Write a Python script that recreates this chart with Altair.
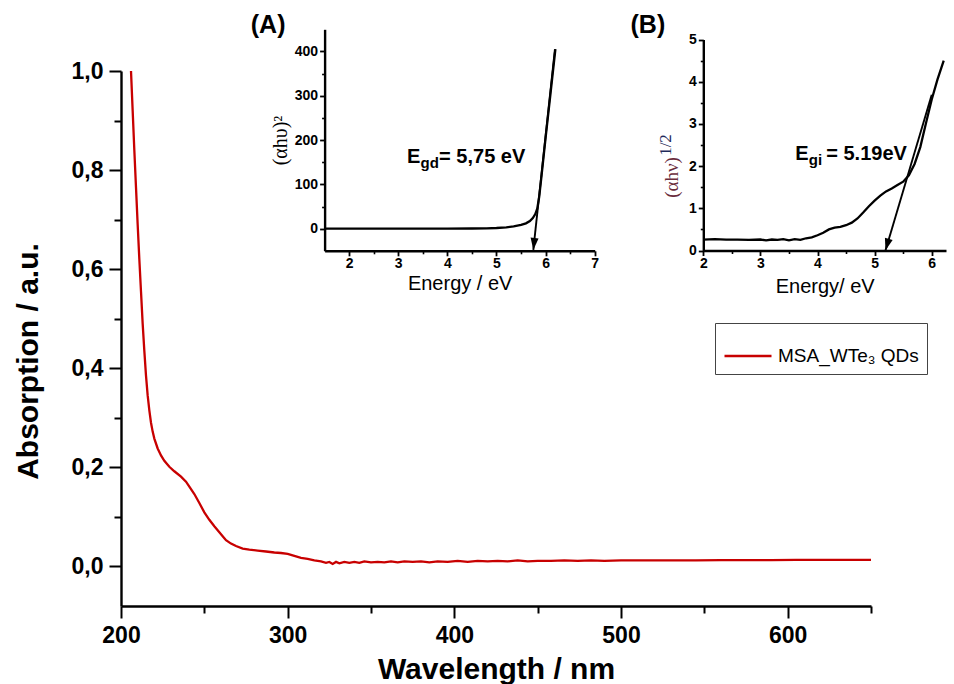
import altair as alt
import pandas as pd

# ---------------- data ----------------
wavelength = [206, 207, 208, 209, 210, 211, 212, 213, 214, 215, 216, 217, 218, 219, 220,
              222, 224, 226, 229, 232, 236, 239, 241, 244, 247, 250, 253, 256, 258, 261,
              263, 266, 269, 273, 277, 282, 287, 292, 296, 300, 304, 308, 312, 316, 320,
              323, 325, 327, 329, 331, 334, 337, 340, 343, 346, 350, 354, 358, 362, 366,
              370, 375, 380, 385, 390, 396, 402, 408, 414, 420, 426, 432, 438, 444, 450,
              458, 466, 474, 482, 490, 500, 515, 530, 545, 560, 575, 590, 605, 620, 635, 650]
absorption = [1.000, 0.920, 0.840, 0.765, 0.690, 0.620, 0.555, 0.490, 0.435, 0.385,
              0.345, 0.315, 0.290, 0.272, 0.258, 0.238, 0.224, 0.213, 0.201, 0.192,
              0.181, 0.171, 0.161, 0.146, 0.128, 0.109, 0.094, 0.081, 0.073, 0.061,
              0.053, 0.046, 0.041, 0.036, 0.034, 0.032, 0.030, 0.028, 0.027, 0.025,
              0.021, 0.017, 0.015, 0.012, 0.010, 0.007, 0.009, 0.005, 0.009, 0.006,
              0.009, 0.007, 0.009, 0.007, 0.010, 0.008, 0.009, 0.008, 0.010, 0.008,
              0.010, 0.009, 0.010, 0.008, 0.010, 0.009, 0.011, 0.009, 0.011, 0.010,
              0.011, 0.010, 0.012, 0.010, 0.011, 0.011, 0.012, 0.011, 0.012, 0.011,
              0.012, 0.012, 0.012, 0.012, 0.0125, 0.0125, 0.0125, 0.013, 0.013, 0.013, 0.013]
series_name = "MSA_WTe\u2083 QDs"

# inset (A): direct gap Tauc plot
energy_a = [1.5, 2.0, 2.5, 3.0, 3.5, 4.0, 4.5, 4.8, 5.0, 5.2, 5.35, 5.5, 5.6, 5.68,
            5.74, 5.79, 5.83, 5.87, 5.92, 6.0, 6.1, 6.2]
tauc_a = [0, 0, 0, 0, 0, 0, 0.3, 0.8, 1.5, 3, 5, 8.5, 12, 17,
          24, 33, 45, 72, 122, 205, 305, 405]
tangent_a_x = [6.19, 5.75]
tangent_a_y = [405, -48]

# inset (B): indirect gap Tauc plot
energy_b = [2.0, 2.2, 2.4, 2.6, 2.8, 3.0, 3.1, 3.2, 3.3, 3.4,
            3.5, 3.6, 3.7, 3.8, 3.9, 4.0, 4.1, 4.2, 4.3, 4.4,
            4.5, 4.6, 4.7, 4.8, 4.9, 5.0, 5.1, 5.2, 5.3, 5.4,
            5.5, 5.6, 5.7, 5.8, 5.9, 6.0, 6.1, 6.21]
tauc_b = [0.26, 0.27, 0.26, 0.26, 0.25, 0.26, 0.24, 0.26, 0.25, 0.27,
          0.24, 0.27, 0.25, 0.29, 0.31, 0.36, 0.42, 0.50, 0.54, 0.56,
          0.60, 0.66, 0.76, 0.90, 1.05, 1.18, 1.30, 1.40, 1.47, 1.55,
          1.63, 1.78, 2.05, 2.45, 3.02, 3.58, 4.05, 4.50]
tangent_b_x = [6.0, 5.19]
tangent_b_y = [3.69, 0.0]

# annotation anchors (in each inset's data units)
label_a_pos = {"x": [0.35], "y": [441.0], "t": ["(A)"]}
egd_pos = {"x": [3.18], "y": [147.5], "e": ["E"], "sub": ["gd"], "rest": ["= 5,75 eV"]}
label_b_pos = {"x": [1.03], "y": [5.15], "t": ["(B)"]}
egi_pos = {"x": [3.61], "y": [2.14], "e": ["E"], "sub": ["gi"], "rest": ["= 5.19eV"]}
half_pos = {"x": [1.43], "y": [2.5], "t": ["1/2"]}

# ---------------- layout ----------------
W, H = 750, 535
PAD = {"left": 121, "top": 71, "right": 954 - 121 - W, "bottom": 684 - 71 - H}
RED = "#c80000"
SANS = "Liberation Sans"
SERIF = "Liberation Serif"

# ---------------- main spectrum ----------------
main_df = pd.DataFrame({"wl": wavelength, "ab": absorption, "series": series_name})
x_main = alt.Scale(domain=[200, 650], nice=False, zero=False)
y_main = alt.Scale(domain=[-0.08, 1.0], nice=False, zero=False)

main_line = alt.Chart(main_df).mark_line(strokeWidth=2.3).encode(
    x=alt.X("wl:Q", scale=x_main, axis=alt.Axis(
        orient="bottom", values=[200, 300, 400, 500, 600], tickSize=12, tickWidth=2,
        domainWidth=2.4, labelFontSize=23, labelFontWeight="bold", labelPadding=6,
        labelFlush=False, labelOverlap=False,
        title="Wavelength / nm", titleFontSize=30, titleFontWeight="bold",
        titleBaseline="alphabetic", titleY=72)),
    y=alt.Y("ab:Q", scale=y_main, axis=alt.Axis(
        orient="left", values=[0, 0.2, 0.4, 0.6, 0.8, 1.0], tickSize=12, tickWidth=2,
        domainWidth=2.4, labelFontSize=23, labelFontWeight="bold", labelPadding=6,
        labelFlush=False, labelOverlap=False,
        labelExpr="replace(format(datum.value, '.1f'), '.', ',')",
        title="Absorption / a.u.", titleFontSize=30, titleFontWeight="bold",
        titleBaseline="alphabetic", titleAngle=270, titleAlign="center",
        titleX=-84, titleY=290)),
    color=alt.Color("series:N", scale=alt.Scale(domain=[series_name], range=[RED]),
                    legend=alt.Legend(
                        orient="none", legendX=594, legendY=252, title=None,
                        symbolType="stroke", symbolSize=2209, symbolStrokeWidth=2.5,
                        labelFontSize=19, labelFont=SANS, labelOffset=5, labelColor="black",
                        padding=8, strokeColor="#444", fillColor="white", cornerRadius=0)),
)
main_minor = alt.Chart(main_df).mark_line(opacity=0).encode(
    x=alt.X("wl:Q", scale=x_main, axis=alt.Axis(
        orient="bottom", values=[250, 350, 450, 550, 650], tickSize=7, tickWidth=2,
        labels=False, domain=False, title=None)),
    y=alt.Y("ab:Q", scale=y_main, axis=alt.Axis(
        orient="left", values=[0.1, 0.3, 0.5, 0.7, 0.9], tickSize=7, tickWidth=2,
        labels=False, domain=False, title=None)),
)
main = alt.layer(main_line, main_minor).resolve_axis(x="independent", y="independent")

# ---------------- inset A ----------------
xa = alt.Scale(domain=[1.5, 7], range=[203.6, 473.7], nice=False, zero=False)
ya = alt.Scale(domain=[-50, 450], range=[179.8, -41.7], nice=False, zero=False)
a_df = pd.DataFrame({"e": energy_a, "v": tauc_a})
a_tan = pd.DataFrame({"e": tangent_a_x, "v": tangent_a_y})

lineA = alt.Chart(a_df).mark_line(color="black", strokeWidth=2.3).encode(
    x=alt.X("e:Q", scale=xa, axis=alt.Axis(
        orient="bottom", offset=179.8 - H, values=[2, 3, 4, 5, 6, 7], tickSize=5,
        tickWidth=1.8, domainWidth=2.4, labelFontSize=14, labelFontWeight="bold",
        labelPadding=1, labelFlush=False, labelOverlap=False,
        title="Energy / eV", titleFontSize=20, titleFontWeight="normal",
        titleBaseline="alphabetic", titleY=39)),
    y=alt.Y("v:Q", scale=ya, axis=alt.Axis(
        orient="left", offset=-203.6, values=[0, 100, 200, 300, 400], tickSize=5,
        tickWidth=1.8, domainWidth=2.4, labelFontSize=14, labelFontWeight="bold",
        labelPadding=2, labelFlush=False, labelOverlap=False,
        title="(\u03b1h\u03c5)\u00b2", titleFont=SERIF, titleFontSize=20,
        titleFontWeight="normal", titleBaseline="alphabetic", titleAngle=270,
        titleAlign="center", titleX=-38, titleY=69)),
)
tanA = alt.Chart(a_tan).mark_line(color="black", strokeWidth=1.9).encode(
    x=alt.X("e:Q", scale=xa, axis=alt.Axis(
        orient="bottom", offset=179.8 - H, values=[2.5, 3.5, 4.5, 5.5, 6.5], tickSize=3,
        tickWidth=1.6, labels=False, domain=False, title=None)),
    y=alt.Y("v:Q", scale=ya, axis=alt.Axis(
        orient="left", offset=-203.6, values=[50, 150, 250, 350], tickSize=3,
        tickWidth=1.6, labels=False, domain=False, title=None)),
)
headA = alt.Chart(a_tan.tail(1)).mark_point(
    shape="M -1 -3 L 1 -3 L 0 0 Z", filled=True, color="black", size=64, opacity=1, angle=6
).encode(x=alt.X("e:Q", scale=xa, axis=None), y=alt.Y("v:Q", scale=ya, axis=None))

labA_df = pd.DataFrame(label_a_pos)
labA = alt.Chart(labA_df).mark_text(fontSize=25, fontWeight="bold", font=SANS,
                                    align="center", baseline="alphabetic", color="black").encode(
    x=alt.X("x:Q", scale=xa, axis=None), y=alt.Y("y:Q", scale=ya, axis=None), text="t:N")
egd_df = pd.DataFrame(egd_pos)
egdE = alt.Chart(egd_df).mark_text(fontSize=20, fontWeight="bold", font=SANS,
                                   align="left", baseline="alphabetic", color="black").encode(
    x=alt.X("x:Q", scale=xa, axis=None), y=alt.Y("y:Q", scale=ya, axis=None), text="e:N")
egdS = alt.Chart(egd_df).mark_text(fontSize=15, fontWeight="bold", font=SANS, dx=13.5, dy=5,
                                   align="left", baseline="alphabetic", color="black").encode(
    x=alt.X("x:Q", scale=xa, axis=None), y=alt.Y("y:Q", scale=ya, axis=None), text="sub:N")
egdR = alt.Chart(egd_df).mark_text(fontSize=20, fontWeight="bold", font=SANS, dx=32,
                                   align="left", baseline="alphabetic", color="black").encode(
    x=alt.X("x:Q", scale=xa, axis=None), y=alt.Y("y:Q", scale=ya, axis=None), text="rest:N")

insetA = alt.layer(lineA, tanA, headA, labA, egdE, egdS, egdR).resolve_axis(
    x="independent", y="independent")

# ---------------- inset B ----------------
xb = alt.Scale(domain=[2, 6.25], range=[582.3, 825.0], nice=False, zero=False)
yb = alt.Scale(domain=[0, 5], range=[179.5, -31.5], nice=False, zero=False)
b_df = pd.DataFrame({"e": energy_b, "v": tauc_b})
b_tan = pd.DataFrame({"e": tangent_b_x, "v": tangent_b_y})

lineB = alt.Chart(b_df).mark_line(color="black", strokeWidth=2.3).encode(
    x=alt.X("e:Q", scale=xb, axis=alt.Axis(
        orient="bottom", offset=179.5 - H, values=[2, 3, 4, 5, 6], tickSize=5,
        tickWidth=1.8, domainWidth=2.4, labelFontSize=14, labelFontWeight="bold",
        labelPadding=1, labelFlush=False, labelOverlap=False,
        title="Energy/ eV", titleFontSize=20, titleFontWeight="normal",
        titleBaseline="alphabetic", titleY=42)),
    y=alt.Y("v:Q", scale=yb, axis=alt.Axis(
        orient="left", offset=-582.3, values=[0, 1, 2, 3, 4, 5], tickSize=5,
        tickWidth=1.8, domainWidth=2.4, labelFontSize=14, labelFontWeight="bold",
        labelPadding=2, labelFlush=False, labelOverlap=False,
        title="(\u03b1h\u03bd)", titleFont=SERIF, titleFontSize=19, titleColor="#6a2c3c",
        titleFontWeight="normal", titleBaseline="alphabetic", titleAngle=270,
        titleAlign="center", titleX=-26, titleY=106)),
)
tanB = alt.Chart(b_tan).mark_line(color="black", strokeWidth=1.9).encode(
    x=alt.X("e:Q", scale=xb, axis=alt.Axis(
        orient="bottom", offset=179.5 - H, values=[2.5, 3.5, 4.5, 5.5], tickSize=3,
        tickWidth=1.6, labels=False, domain=False, title=None)),
    y=alt.Y("v:Q", scale=yb, axis=alt.Axis(
        orient="left", offset=-582.3, values=[0.5, 1.5, 2.5, 3.5, 4.5], tickSize=3,
        tickWidth=1.6, labels=False, domain=False, title=None)),
)
headB = alt.Chart(b_tan.tail(1)).mark_point(
    shape="M -1 -3 L 1 -3 L 0 0 Z", filled=True, color="black", size=64, opacity=1, angle=16
).encode(x=alt.X("e:Q", scale=xb, axis=None), y=alt.Y("v:Q", scale=yb, axis=None))

labB_df = pd.DataFrame(label_b_pos)
labB = alt.Chart(labB_df).mark_text(fontSize=25, fontWeight="bold", font=SANS,
                                    align="center", baseline="alphabetic", color="black").encode(
    x=alt.X("x:Q", scale=xb, axis=None), y=alt.Y("y:Q", scale=yb, axis=None), text="t:N")
half_df = pd.DataFrame(half_pos)
halfB = alt.Chart(half_df).mark_text(fontSize=17, font=SERIF, angle=270, color="#1f2a5a",
                                     align="center", baseline="alphabetic").encode(
    x=alt.X("x:Q", scale=xb, axis=None), y=alt.Y("y:Q", scale=yb, axis=None), text="t:N")
egi_df = pd.DataFrame(egi_pos)
egiE = alt.Chart(egi_df).mark_text(fontSize=20, fontWeight="bold", font=SANS,
                                   align="left", baseline="alphabetic", color="black").encode(
    x=alt.X("x:Q", scale=xb, axis=None), y=alt.Y("y:Q", scale=yb, axis=None), text="e:N")
egiS = alt.Chart(egi_df).mark_text(fontSize=15, fontWeight="bold", font=SANS, dx=13.5, dy=5,
                                   align="left", baseline="alphabetic", color="black").encode(
    x=alt.X("x:Q", scale=xb, axis=None), y=alt.Y("y:Q", scale=yb, axis=None), text="sub:N")
egiR = alt.Chart(egi_df).mark_text(fontSize=20, fontWeight="bold", font=SANS, dx=31,
                                   align="left", baseline="alphabetic", color="black").encode(
    x=alt.X("x:Q", scale=xb, axis=None), y=alt.Y("y:Q", scale=yb, axis=None), text="rest:N")

insetB = alt.layer(lineB, tanB, headB, labB, halfB, egiE, egiS, egiR).resolve_axis(
    x="independent", y="independent")

# ---------------- compose ----------------
chart = alt.layer(main, insetA, insetB).resolve_scale(
    x="independent", y="independent"
).properties(
    width=W, height=H, padding=PAD, autosize=alt.AutoSizeParams(type="none")
).configure_view(stroke=None).configure_axis(
    grid=False, domainColor="black", tickColor="black", labelColor="black",
    titleColor="black", labelFont=SANS, titleFont=SANS
)

chart.save("out.html", embed_options={"renderer": "svg", "actions": False})
